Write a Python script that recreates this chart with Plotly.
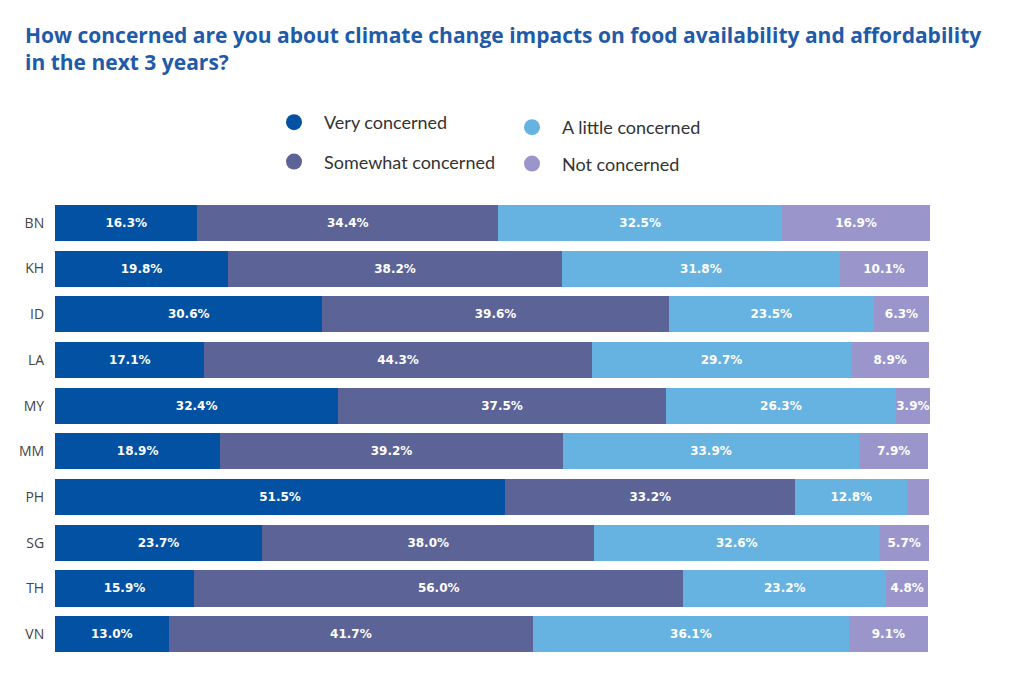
import plotly.graph_objects as go

countries = ["BN", "KH", "ID", "LA", "MY", "MM", "PH", "SG", "TH", "VN"]
very = [16.3, 19.8, 30.6, 17.1, 32.4, 18.9, 51.5, 23.7, 15.9, 13.0]
somewhat = [34.4, 38.2, 39.6, 44.3, 37.5, 39.2, 33.2, 38.0, 56.0, 41.7]
little = [32.5, 31.8, 23.5, 29.7, 26.3, 33.9, 12.8, 32.6, 23.2, 36.1]
notc = [16.9, 10.1, 6.3, 8.9, 3.9, 7.9, 2.5, 5.7, 4.8, 9.1]

series_names = ["Very concerned", "Somewhat concerned", "A little concerned", "Not concerned"]
series_vals = [very, somewhat, little, notc]
colors = ["#0251A3", "#5C6396", "#66B2E0", "#9A96CB"]

totals = [sum(t) for t in zip(*series_vals)]
xmax = max(totals) + 0.01

fig = go.Figure()
for name, vals, col in zip(series_names, series_vals, colors):
    labels = [f"{v:.1f}%" if v >= 3 else "" for v in vals]
    fig.add_trace(go.Bar(
        y=countries, x=vals, name=name, orientation="h",
        marker=dict(color=col, line=dict(width=0)),
        text=labels, textposition="inside", insidetextanchor="middle", textangle=0,
        textfont=dict(family="DejaVu Sans", size=12, color="white", weight="bold"),
        cliponaxis=False, showlegend=False, hoverinfo="skip",
    ))

# legend entries (circles) in two columns
legend_of = {"Very concerned": "legend", "Somewhat concerned": "legend",
             "A little concerned": "legend2", "Not concerned": "legend2"}
for i, (name, col) in enumerate(zip(series_names, colors)):
    fig.add_trace(go.Scatter(
        x=[None], y=[None], mode="markers", name=name,
        marker=dict(symbol="circle", size=18, color=col),
        legend=legend_of[name], legendgroup=name, showlegend=True,
    ))

legend_common = dict(
    orientation="v", font=dict(family="Lato", size=18, color="#333333"),
    itemwidth=50, bgcolor="rgba(0,0,0,0)",
    xanchor="left", yanchor="top",
)

fig.update_layout(
    width=1024, height=681,
    margin=dict(l=55, r=94, t=200, b=24, autoexpand=False),
    paper_bgcolor="white", plot_bgcolor="white",
    barmode="stack", bargap=0.21,
    uniformtext=dict(mode="show", minsize=12),
    title=dict(
        text="How concerned are you about climate change impacts on food availability and affordability<br>in the next 3 years?",
        x=25/1024, xanchor="left", xref="container",
        y=1 - 43/681, yanchor="top", yref="container",
        font=dict(family="Open Sans", size=21, color="#1F5BA8", weight="bold"),
    ),
    xaxis=dict(range=[0, xmax], visible=False, fixedrange=True),
    yaxis=dict(autorange="reversed", showgrid=False, showline=False, zeroline=False,
               ticks="outside", ticklen=7, tickcolor="rgba(0,0,0,0)",
               tickfont=dict(family="Open Sans", size=14, color="#444444")),
    legend=dict(x=(264 - 55) / 875, y=(657 - 104) / 457, tracegroupgap=13, **legend_common),
    legend2=dict(x=(502 - 55) / 875, y=(657 - 109) / 457, tracegroupgap=10, **legend_common),
)

fig.write_html("out.html")
